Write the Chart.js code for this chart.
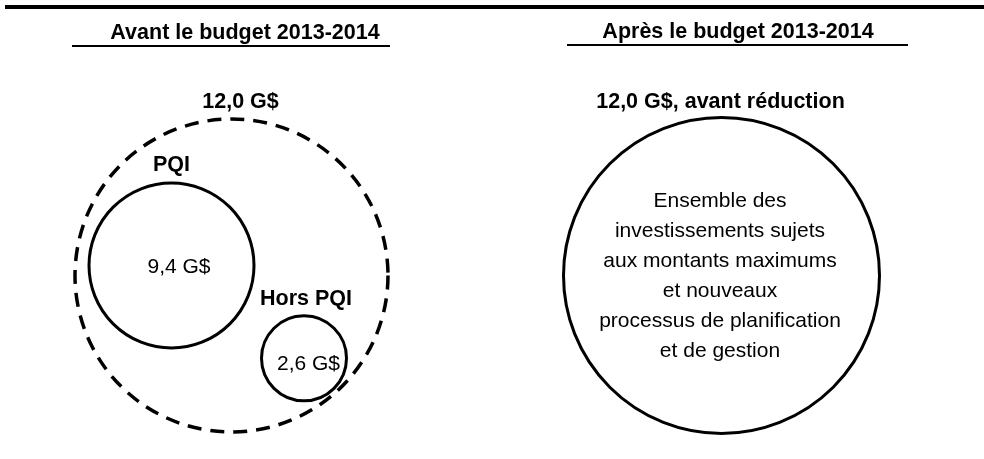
<!DOCTYPE html>
<html>
<head>
<meta charset="utf-8">
<script src="https://cdn.jsdelivr.net/npm/chart.js@4"></script>
<style>
  html, body { margin: 0; padding: 0; background: #ffffff; }
  #wrap { position: relative; width: 984px; height: 459px; }
</style>
</head>
<body>
<div id="wrap"><canvas id="c"></canvas></div>
<script>
// ---- data ----
const panelTitles = ['Avant le budget 2013-2014', 'Après le budget 2013-2014'];
const circleNames = ['Total', 'PQI', 'Hors PQI', 'Total après'];
const circleValues = [12.0, 9.4, 2.6, 12.0];
const bubbleX = [231.5, 171.5, 304, 721.5];
const bubbleY = [275.5, 265.5, 358.3, 275.5];
const bubbleR = [156.5, 82.5, 42.5, 158];
const descriptionLines = [
  'Ensemble des',
  'investissements sujets',
  'aux montants maximums',
  'et nouveaux',
  'processus de planification',
  'et de gestion'
];

const fmt = v => v.toFixed(1).replace('.', ',') + ' G$';
const FONT = '"Liberation Sans", Arial, sans-serif';

const solidIdx = [1, 2, 3];
const dashedIdx = [0];

const decorPlugin = {
  id: 'decor',
  beforeDatasetDraw(chart, args) {
    if (args.index === 1) chart.ctx.setLineDash([14, 9]);
  },
  afterDatasetDraw(chart, args) {
    chart.ctx.setLineDash([]);
  },
  afterDraw(chart) {
    const ctx = chart.ctx;
    const xs = chart.scales.x, ys = chart.scales.y;
    const px = v => xs.getPixelForValue(v);
    const py = v => ys.getPixelForValue(v);
    ctx.save();
    ctx.fillStyle = '#000';
    ctx.strokeStyle = '#000';
    // top rule
    ctx.fillRect(5, 5, 979, 4);
    // panel titles + underlines
    ctx.font = 'bold 21.5px ' + FONT;
    ctx.textAlign = 'center';
    ctx.textBaseline = 'alphabetic';
    ctx.fillText(panelTitles[0], 245, 39);
    ctx.fillText(panelTitles[1], 738, 38);
    ctx.fillRect(72, 45, 318, 2);
    ctx.fillRect(567, 44, 341, 2);
    // circle headings
    ctx.fillText(fmt(circleValues[0]), px(bubbleX[0]) + 9, 108);
    ctx.fillText(circleNames[1], px(bubbleX[1]), 170.5);
    ctx.fillText(circleNames[2], px(bubbleX[2]) + 2, 305);
    ctx.fillText(fmt(circleValues[3]) + ', avant réduction', px(bubbleX[3]) - 1, 108);
    // values inside
    ctx.font = '21px ' + FONT;
    ctx.fillText(fmt(circleValues[1]), px(bubbleX[1]) + 7.5, py(bubbleY[1]) + 7.5);
    ctx.fillText(fmt(circleValues[2]), px(bubbleX[2]) + 4.5, py(bubbleY[2]) + 11.2);
    // description
    descriptionLines.forEach((line, i) => {
      ctx.fillText(line, px(bubbleX[3]) - 1.5, 206.5 + i * 30);
    });
    ctx.restore();
  }
};

const mk = idx => idx.map(i => ({ x: bubbleX[i], y: bubbleY[i], r: bubbleR[i] }));

new Chart(document.getElementById('c'), {
  type: 'bubble',
  data: {
    datasets: [
      {
        label: 'solid',
        data: mk(solidIdx),
        borderColor: '#000',
        borderWidth: 3,
        backgroundColor: 'rgba(0,0,0,0)',
        clip: false
      },
      {
        label: 'dashed',
        data: mk(dashedIdx),
        borderColor: '#000',
        borderWidth: 3.5,
        backgroundColor: 'rgba(0,0,0,0)',
        clip: false
      }
    ]
  },
  options: {
    responsive: true,
    maintainAspectRatio: false,
    animation: false,
    events: [],
    layout: { padding: 0, autoPadding: false },
    plugins: { legend: { display: false }, tooltip: { enabled: false }, title: { display: false } },
    scales: {
      x: { type: 'linear', min: 0, max: 984, display: false },
      y: { type: 'linear', min: 0, max: 459, reverse: true, display: false }
    }
  },
  plugins: [decorPlugin]
});
</script>
</body>
</html>
